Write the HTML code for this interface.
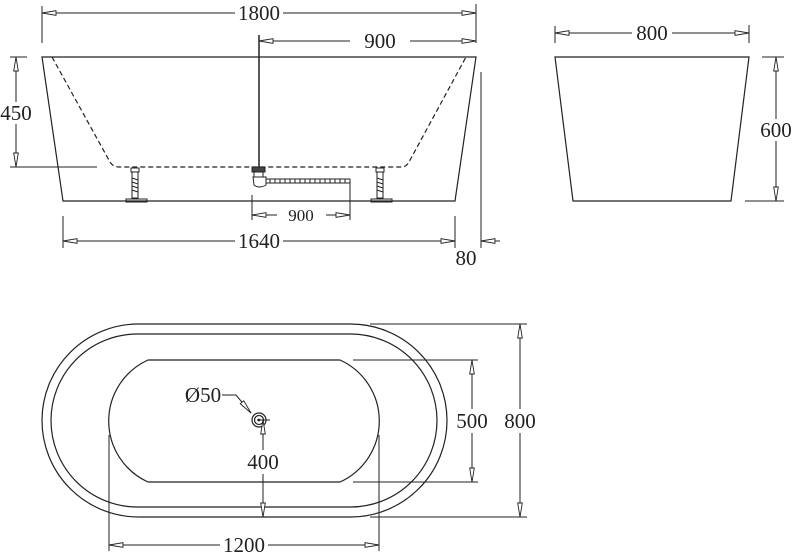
<!DOCTYPE html>
<html><head><meta charset="utf-8"><style>
html,body{margin:0;padding:0;background:#fff;}
svg{display:block;}
text{font-family:"Liberation Serif",serif;fill:#222;}
</style></head><body>
<svg width="796" height="555" viewBox="0 0 796 555" xmlns="http://www.w3.org/2000/svg">
<defs>
<g id="aL"><polygon points="0,0 14,-2.3 14,2.3" fill="#fff" stroke="#222" stroke-width="0.9"/></g>
</defs>
<g stroke="#222" stroke-width="1.2" fill="none">
<path d="M42,57 L476,57 L455,201 L63,201 Z"/>
<path d="M52,57 L110,162 Q113,167 119,167 L402,167 Q406,167 409,162 L466,57" stroke-dasharray="5,3"/>
<line x1="481" y1="72" x2="481" y2="248" stroke-width="1"/>
<line x1="42" y1="6" x2="42" y2="43" stroke-width="1"/>
<line x1="476" y1="4" x2="476" y2="43" stroke-width="1"/>
<line x1="42" y1="13" x2="476" y2="13" stroke-width="1"/>
<line x1="259" y1="35" x2="259" y2="167" stroke-width="1.5"/>
<line x1="259" y1="41" x2="476" y2="41" stroke-width="1"/>
<line x1="10" y1="57" x2="27" y2="57" stroke-width="1"/>
<line x1="10" y1="167" x2="97" y2="167" stroke-width="1"/>
<line x1="16" y1="57" x2="16" y2="167" stroke-width="1"/>
<line x1="252" y1="195" x2="252" y2="220" stroke-width="1"/>
<line x1="350" y1="182" x2="350" y2="220" stroke-width="1"/>
<line x1="252" y1="215" x2="277" y2="215" stroke-width="1"/>
<line x1="326" y1="215" x2="350" y2="215" stroke-width="1"/>
<line x1="63" y1="216" x2="63" y2="248" stroke-width="1"/>
<line x1="455" y1="216" x2="455" y2="248" stroke-width="1"/>
<line x1="63" y1="241" x2="455" y2="241" stroke-width="1"/>
<line x1="481" y1="241" x2="500" y2="241" stroke-width="1"/>
<g stroke-width="1">
<rect x="131" y="168" width="8" height="4"/><rect x="132" y="172" width="6" height="26"/>
<path d="M132,178 L138,180 M132,182 L138,184 M132,186 L138,188 M132,190 L138,192"/>
<rect x="126" y="199" width="21" height="3"/>
<rect x="376" y="168" width="8" height="4"/><rect x="377" y="172" width="6" height="26"/>
<path d="M377,178 L383,180 M377,182 L383,184 M377,186 L383,188 M377,190 L383,192"/>
<rect x="371" y="199" width="21" height="3"/>
<rect x="252" y="167" width="13" height="5" fill="#444"/>
<rect x="254" y="172" width="9" height="5"/>
<path d="M253,177 L266,177 L266,185 Q259,189 254,185 Z"/>
<rect x="266" y="179" width="84" height="4"/>
<path d="M270,179v4M275,179v4M280,179v4M285,179v4M290,179v4M295,179v4M300,179v4M305,179v4M310,179v4M315,179v4M320,179v4M325,179v4M330,179v4M335,179v4M340,179v4M345,179v4"/>
</g>
<path d="M555,57 L749,57 L731,201 L573,201 Z"/>
<line x1="555" y1="26" x2="555" y2="43" stroke-width="1"/>
<line x1="749" y1="25" x2="749" y2="43" stroke-width="1"/>
<line x1="555" y1="33" x2="749" y2="33" stroke-width="1"/>
<line x1="762" y1="57" x2="784" y2="57" stroke-width="1"/>
<line x1="745" y1="201" x2="784" y2="201" stroke-width="1"/>
<line x1="776" y1="57" x2="776" y2="201" stroke-width="1"/>
<rect x="42" y="324" width="405" height="193" rx="96.5" ry="96.5"/>
<rect x="51" y="334" width="386" height="173" rx="86.5" ry="86.5"/>
<path d="M148,360 L340,360 A67,67 0 0 1 340,482 L148,482 A67,67 0 0 1 148,360 Z"/>
<circle cx="259" cy="420" r="7"/>
<circle cx="259" cy="420" r="4.5"/>
<circle cx="259" cy="420" r="0.8" fill="#222"/>
<path d="M222,395 L236,395 L251,413" stroke-width="1"/>
<line x1="353" y1="360" x2="478" y2="360" stroke-width="1"/>
<line x1="353" y1="482" x2="478" y2="482" stroke-width="1"/>
<line x1="472" y1="360" x2="472" y2="482" stroke-width="1"/>
<line x1="370" y1="324" x2="527" y2="324" stroke-width="1"/>
<line x1="370" y1="517" x2="527" y2="517" stroke-width="1"/>
<line x1="520" y1="324" x2="520" y2="517" stroke-width="1"/>
<line x1="263" y1="420" x2="263" y2="517" stroke-width="1"/>
<line x1="257" y1="420" x2="270" y2="420" stroke-width="1"/>
<line x1="109" y1="435" x2="109" y2="551" stroke-width="1"/>
<line x1="379" y1="435" x2="379" y2="551" stroke-width="1"/>
<line x1="109" y1="545" x2="379" y2="545" stroke-width="1"/>
</g>
<use href="#aL" transform="translate(42,13)"/>
<use href="#aL" transform="translate(476,13) rotate(180)"/>
<use href="#aL" transform="translate(259,41)"/>
<use href="#aL" transform="translate(476,41) rotate(180)"/>
<use href="#aL" transform="translate(16,57) rotate(90)"/>
<use href="#aL" transform="translate(16,167) rotate(-90)"/>
<use href="#aL" transform="translate(252,215)"/>
<use href="#aL" transform="translate(350,215) rotate(180)"/>
<use href="#aL" transform="translate(63,241)"/>
<use href="#aL" transform="translate(455,241) rotate(180)"/>
<use href="#aL" transform="translate(481,241)"/>
<use href="#aL" transform="translate(555,33)"/>
<use href="#aL" transform="translate(749,33) rotate(180)"/>
<use href="#aL" transform="translate(776,57) rotate(90)"/>
<use href="#aL" transform="translate(776,201) rotate(-90)"/>
<use href="#aL" transform="translate(472,360) rotate(90)"/>
<use href="#aL" transform="translate(472,482) rotate(-90)"/>
<use href="#aL" transform="translate(520,324) rotate(90)"/>
<use href="#aL" transform="translate(520,517) rotate(-90)"/>
<use href="#aL" transform="translate(263,420) rotate(90)"/>
<use href="#aL" transform="translate(263,517) rotate(-90)"/>
<use href="#aL" transform="translate(109,545)"/>
<use href="#aL" transform="translate(379,545) rotate(180)"/>
<use href="#aL" transform="translate(251,413) rotate(-130)"/>
<g font-size="21" text-anchor="middle">
<rect x="235" y="2" width="48" height="22" fill="#fff"/>
<text x="259" y="20">1800</text>
<rect x="350" y="30" width="60" height="22" fill="#fff"/>
<text x="380" y="48">900</text>
<rect x="0" y="102" width="33" height="22" fill="#fff"/>
<text x="16" y="120">450</text>
<text x="301" y="221" font-size="17">900</text>
<rect x="235" y="230" width="48" height="22" fill="#fff"/>
<text x="259" y="248">1640</text>
<text x="466" y="265">80</text>
<rect x="632" y="22" width="40" height="22" fill="#fff"/>
<text x="652" y="40">800</text>
<rect x="757" y="119" width="38" height="22" fill="#fff"/>
<text x="776" y="137">600</text>
<text x="203" y="402">Ø50</text>
<rect x="454" y="409" width="36" height="24" fill="#fff"/>
<text x="472" y="428">500</text>
<rect x="502" y="409" width="36" height="24" fill="#fff"/>
<text x="520" y="428">800</text>
<rect x="246" y="450" width="34" height="24" fill="#fff"/>
<text x="263" y="469">400</text>
<rect x="220" y="534" width="48" height="21" fill="#fff"/>
<text x="244" y="552">1200</text>
</g>
</svg>
</body></html>
